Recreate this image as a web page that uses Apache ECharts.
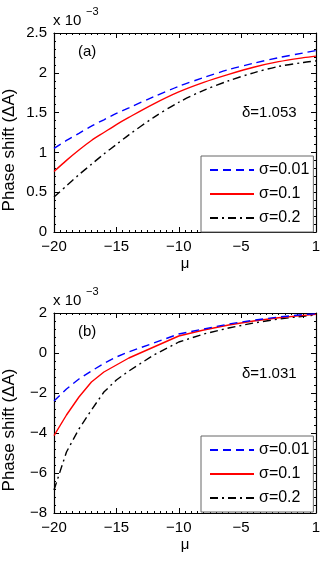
<!DOCTYPE html>
<html>
<head>
<meta charset="utf-8">
<script src="https://cdn.jsdelivr.net/npm/echarts@6/dist/echarts.min.js"></script>
<style>
  html, body { margin: 0; padding: 0; background: #fff; }
  #chart { width: 332px; height: 566px; }
</style>
</head>
<body>
<div id="chart"></div>
<script>
// mu values where curves were read
const mu = [-20, -19, -18, -17, -16, -15, -14, -12, -10, -8, -6, -4, -2, 0, 1];

// panel (a), delta = 1.053, values x 1e-3
const aSigma001 = [1.05, 1.15, 1.24, 1.33, 1.41, 1.49, 1.56, 1.70, 1.83, 1.94, 2.04, 2.12, 2.19, 2.25, 2.28];
const aSigma01  = [0.76, 0.90, 1.03, 1.15, 1.25, 1.35, 1.44, 1.61, 1.76, 1.88, 1.98, 2.07, 2.14, 2.19, 2.21];
const aSigma02  = [0.44, 0.58, 0.72, 0.85, 0.98, 1.10, 1.22, 1.44, 1.63, 1.78, 1.90, 2.00, 2.08, 2.13, 2.15];

// panel (b), delta = 1.031, values x 1e-3
const bSigma001 = [-2.40, -1.80, -1.30, -0.90, -0.52, -0.20, 0.06, 0.50, 0.95, 1.20, 1.45, 1.64, 1.80, 1.92, 1.96];
const bSigma01  = [-4.13, -3.10, -2.20, -1.45, -0.95, -0.60, -0.25, 0.30, 0.85, 1.15, 1.40, 1.60, 1.76, 1.88, 1.93];
const bSigma02  = [-6.85, -4.95, -3.80, -2.85, -1.95, -1.35, -0.90, -0.10, 0.55, 0.95, 1.25, 1.50, 1.70, 1.84, 1.90];

const names = ['σ=0.01', 'σ=0.1', 'σ=0.2'];

const FONT = 'Liberation Sans, Arial, sans-serif';
const minus = v => String(v).replace('-', '\u2212');

function pairs(ys) {
    return mu.map((m, i) => [m, ys[i]]);
}

let chart = echarts.init(document.getElementById('chart'), null, { renderer: 'canvas' });

const grids = [
    { left: 54, top: 33, width: 262, height: 199 },
    { left: 54, top: 313, width: 262, height: 200 }
];
const yRanges = [
    { min: 0, max: 2.5, interval: 0.5 },
    { min: -8, max: 2, interval: 2 }
];

const axisLine = { show: true, onZero: false, lineStyle: { color: '#000', width: 1.2 } };

function xAxes(g) {
    const base = {
        type: 'value', gridIndex: g, min: -20, max: 1, interval: 5,
        axisLine: axisLine,
        axisTick: { show: true, inside: true, length: 5, lineStyle: { color: '#000' } },
        minorTick: { show: true, splitNumber: 10, length: 2, lineStyle: { color: '#000' } },
        splitLine: { show: false }
    };
    return [
        Object.assign({}, base, {
            position: 'bottom',
            axisLabel: {
                fontFamily: FONT, fontSize: 15, color: '#000', margin: 7,
                formatter: v => v === 0 ? '' : minus(v)
            },
            name: 'μ', nameLocation: 'middle', nameGap: 24,
            nameTextStyle: { fontFamily: FONT, fontSize: 15, color: '#000' }
        }),
        Object.assign({}, base, { position: 'top', axisLabel: { show: false } })
    ];
}

function yAxes(g) {
    const r = yRanges[g];
    const base = {
        type: 'value', gridIndex: g, min: r.min, max: r.max, interval: r.interval,
        axisLine: axisLine,
        axisTick: { show: true, inside: true, length: 5, lineStyle: { color: '#000' } },
        minorTick: { show: true, splitNumber: 5, length: 2, lineStyle: { color: '#000' } },
        splitLine: { show: false }
    };
    return [
        Object.assign({}, base, {
            position: 'left',
            axisLabel: { fontFamily: FONT, fontSize: 15, color: '#000', margin: 7, formatter: v => minus(v) }
        }),
        Object.assign({}, base, { position: 'right', axisLabel: { show: false } })
    ];
}

const styles = [
    { color: '#0000ff', type: [8, 5] },
    { color: '#ff0000', type: 'solid' },
    { color: '#000000', type: [8, 4, 2, 4] }
];

function makeSeries(g, lists) {
    return lists.map((ys, i) => ({
        name: names[i],
        type: 'line',
        xAxisIndex: g * 2,
        yAxisIndex: g * 2,
        data: pairs(ys),
        symbol: 'none',
        smooth: g === 0 ? 0.3 : false,
        lineStyle: { color: styles[i].color, type: styles[i].type, width: 1.4 },
        itemStyle: { color: styles[i].color },
        z: 3 - i
    }));
}

function legendAt(top) {
    return {
        orient: 'vertical',
        left: 201, top: top,
        data: names,
        padding: [6, 4, 6, 8],
        itemGap: 8,
        itemWidth: 44,
        itemHeight: 14,
        itemStyle: { opacity: 0, borderWidth: 0 },
        borderColor: '#666',
        borderWidth: 1,
        backgroundColor: '#fff',
        selectedMode: false,
        textStyle: { fontFamily: FONT, fontSize: 16, color: '#000' }
    };
}

function txt(left, top, text, size, extra) {
    return Object.assign({
        type: 'text', left: left, top: top,
        style: { text: text, font: size + 'px ' + FONT, fill: '#000' }
    }, extra || {});
}

const graphics = [];
[0, 280].forEach((dy, g) => {
    graphics.push(txt(53, dy + 13, 'x 10', 15));
    graphics.push(txt(86, dy + 6, '\u22123', 11));
    graphics.push(txt(78, dy + 44, g === 0 ? '(a)' : '(b)', 15));
    graphics.push(txt(242, dy + (g === 0 ? 105 : 86), g === 0 ? 'δ=1.053' : 'δ=1.031', 15));
    graphics.push({
        type: 'text',
        x: 9, y: dy + 150,
        rotation: Math.PI / 2,
        style: {
            text: 'Phase shift (ΔA)', font: '17px ' + FONT, fill: '#000',
            align: 'center', verticalAlign: 'middle'
        }
    });
});

let option = {
    animation: false,
    backgroundColor: '#fff',
    grid: grids,
    xAxis: xAxes(0).concat(xAxes(1)),
    yAxis: yAxes(0).concat(yAxes(1)),
    legend: [legendAt(156), legendAt(436)],
    graphic: graphics,
    series: makeSeries(0, [aSigma001, aSigma01, aSigma02]).concat(makeSeries(1, [bSigma001, bSigma01, bSigma02]))
};

chart.setOption(option);
</script>
</body>
</html>
